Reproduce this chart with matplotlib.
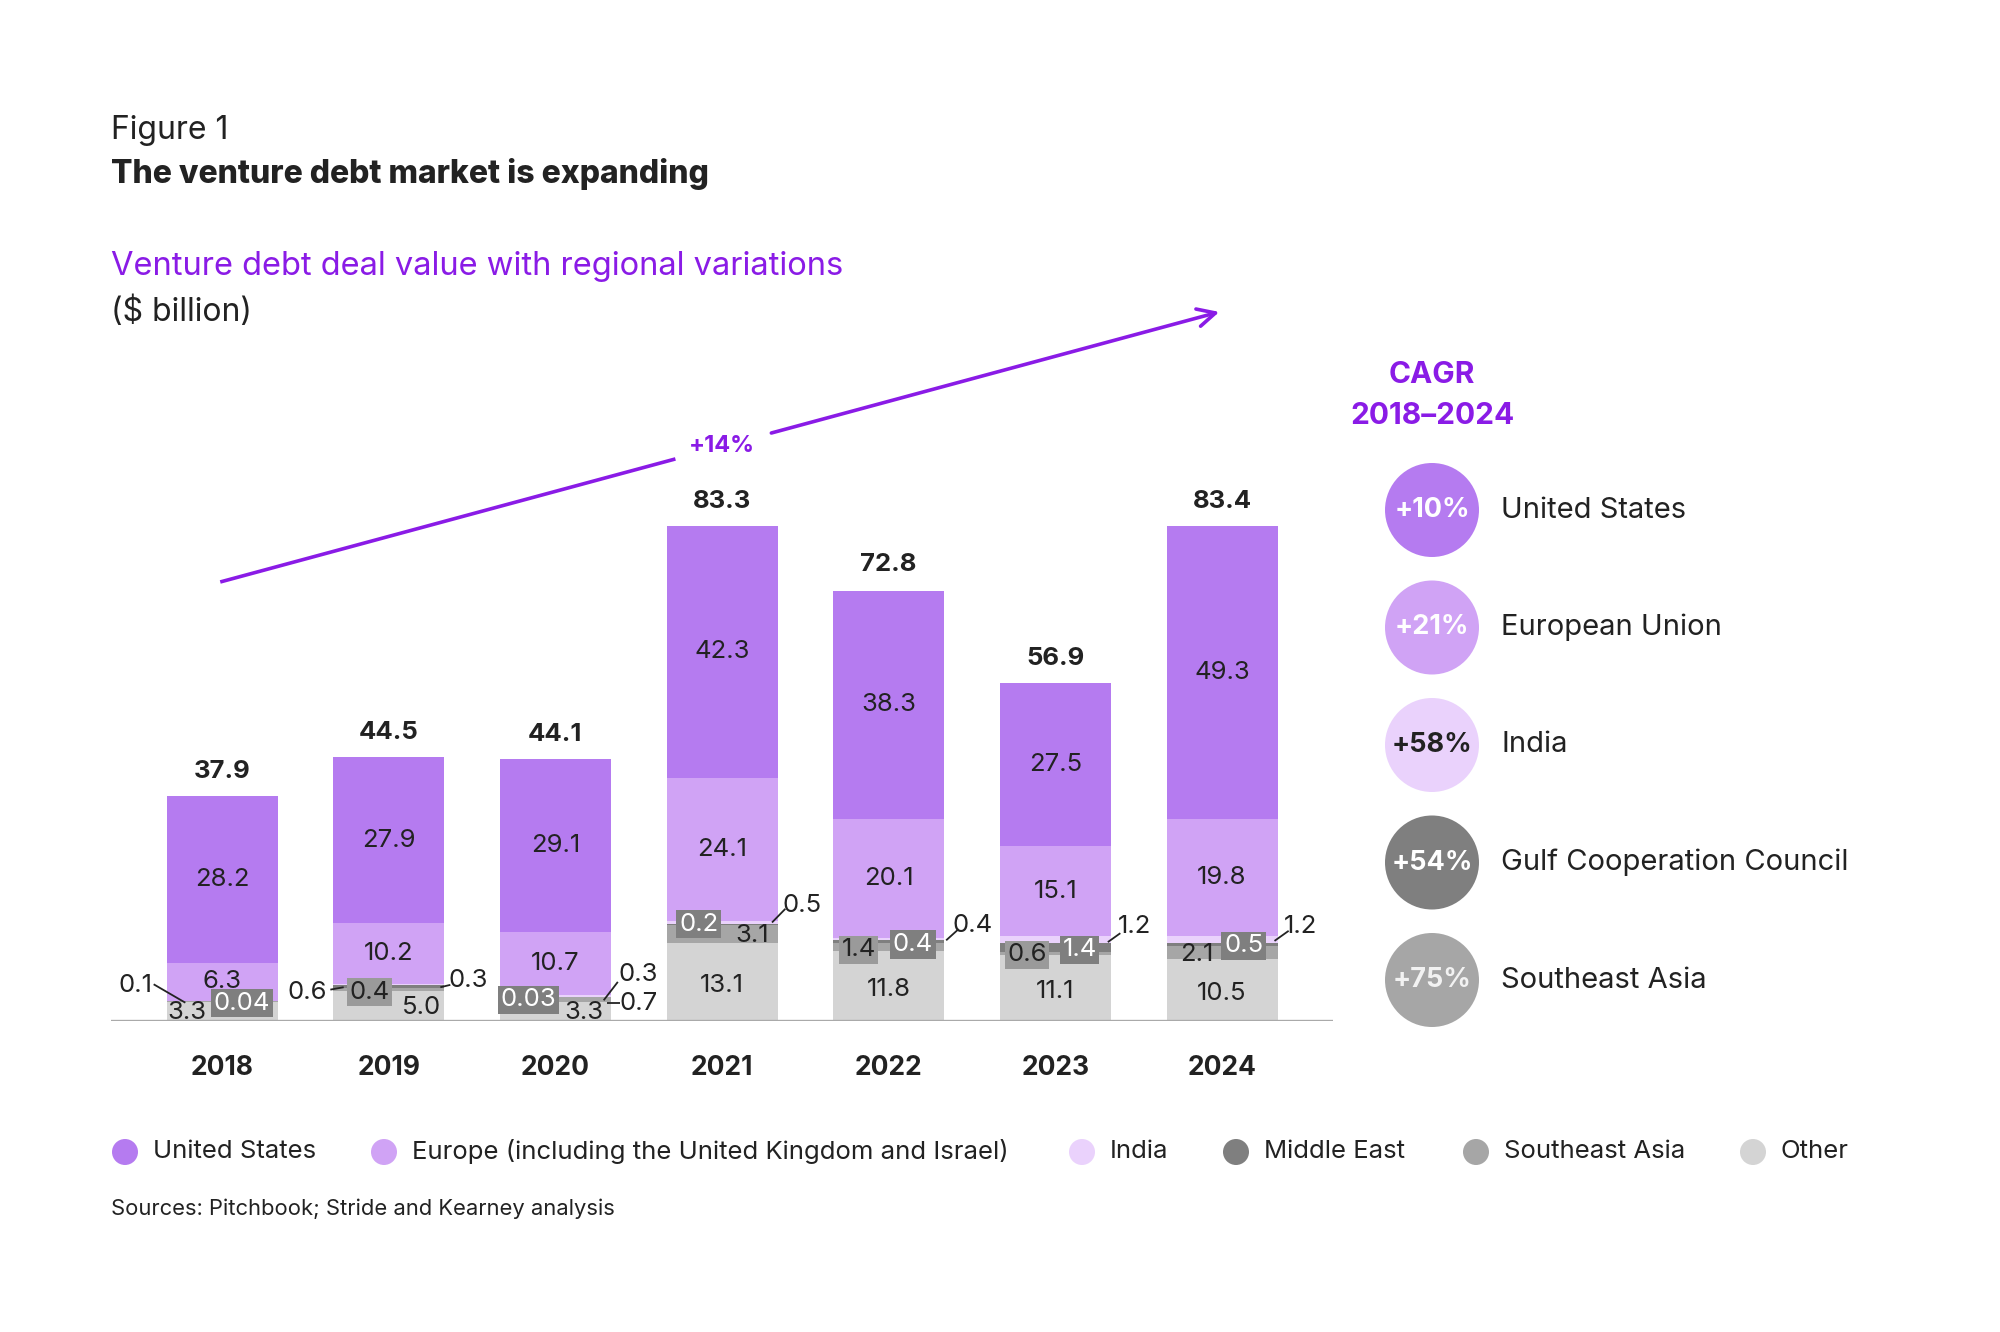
import matplotlib
matplotlib.use("Agg")
import matplotlib.pyplot as plt
from matplotlib.patches import Circle, FancyArrowPatch

plt.rcParams['font.family'] = ['Inter', 'DejaVu Sans']

# ------------- DATA ------------- #
years = ['2018', '2019', '2020', '2021', '2022', '2023', '2024']
other = [3.3, 5.0, 3.3, 13.1, 11.8, 11.1, 10.5]
southeast_asia = [0.1, 0.6, 0.7, 3.1, 1.4, 0.6, 2.1]
middle_east = [0.04, 0.4, 0.03, 0.2, 0.4, 1.4, 0.5]
india = [0.0, 0.3, 0.3, 0.5, 0.4, 1.2, 1.2]
europe = [6.3, 10.2, 10.7, 24.1, 20.1, 15.1, 19.8]
united_states = [28.2, 27.9, 29.1, 42.3, 38.3, 27.5, 49.3]
totals = [37.9, 44.5, 44.1, 83.3, 72.8, 56.9, 83.4]
overall_cagr = '+14%'

cagr_regions = ['United States', 'European Union', 'India', 'Gulf Cooperation Council', 'Southeast Asia']
cagr_values = ['+10%', '+21%', '+58%', '+54%', '+75%']
legend_names = ['United States', 'Europe (including the United Kingdom and Israel)', 'India',
                'Middle East', 'Southeast Asia', 'Other']

# ------------- STYLE ------------- #
purple = '#8a1be6'
dark = '#222222'
c_us, c_eu, c_in = '#b57bf0', '#d0a3f5', '#ead2fc'
c_me, c_sea, c_oth = '#7f7f7f', '#a6a6a6', '#d4d4d4'

series = {'other': other, 'sea': southeast_asia, 'me': middle_east, 'india': india}

# small labels: (bar, series, dx, y, style, leader)
small_labels = [
    (0, 'other', -0.21, 1.5, 'plain', None),
    (0, 'me', 0.12, 3.0, 'dark', None),
    (0, 'sea', -0.52, 6.0, 'plain', ((-0.41, 6.2), (-0.22, 3.1))),
    (1, 'other', 0.20, 2.3, 'plain', None),
    (1, 'me', -0.115, 4.9, 'mid', None),
    (1, 'sea', -0.49, 4.9, 'plain', ((-0.35, 5.3), (-0.27, 5.7))),
    (1, 'india', 0.48, 6.9, 'plain', ((0.31, 5.7), (0.37, 6.1))),
    (2, 'me', -0.16, 3.6, 'dark', None),
    (2, 'other', 0.17, 1.4, 'plain', None),
    (2, 'india', 0.50, 7.8, 'plain', ((0.29, 3.5), (0.375, 6.6))),
    (2, 'sea', 0.50, 3.0, 'plain', ((0.31, 3.0), (0.39, 3.0))),
    (3, 'me', -0.14, 16.3, 'dark', None),
    (3, 'sea', 0.18, 14.4, 'plain', None),
    (3, 'india', 0.48, 19.4, 'plain', ((0.30, 16.6), (0.38, 18.9))),
    (4, 'sea', -0.18, 12.0, 'mid', None),
    (4, 'me', 0.145, 12.9, 'dark', None),
    (4, 'india', 0.505, 16.1, 'plain', ((0.345, 13.6), (0.42, 15.5))),
    (5, 'sea', -0.17, 11.2, 'mid', None),
    (5, 'me', 0.145, 12.0, 'dark', None),
    (5, 'india', 0.475, 15.9, 'plain', ((0.315, 13.3), (0.39, 14.8))),
    (6, 'sea', -0.15, 11.2, 'plain', None),
    (6, 'me', 0.13, 12.7, 'dark', None),
    (6, 'india', 0.47, 15.9, 'plain', ((0.315, 13.5), (0.40, 15.2))),
]


def fmt(v):
    return f"{v:.2f}" if v < 0.1 else f"{v:.1f}"


fig = plt.figure(figsize=(20, 13.32), dpi=100)

# overlay axes in pixel space for headings, CAGR circles and legend
ov = fig.add_axes([0, 0, 1, 1])
ov.set_xlim(0, 2000)
ov.set_ylim(1332, 0)
ov.axis('off')

ax = fig.add_axes([0.0555, 0.2334, 0.611, 0.5575])
ax.set_zorder(2)
ax.patch.set_visible(False)
ax.set_xlim(-0.666, 6.666)
ax.set_ylim(0, 125)
ax.axis('off')

x = list(range(len(years)))
w = 0.666
bottom = [0.0] * len(years)
for vals, col in [(other, c_oth), (southeast_asia, c_sea), (middle_east, c_me),
                  (india, c_in), (europe, c_eu), (united_states, c_us)]:
    ax.bar(x, vals, w, bottom=bottom, color=col, linewidth=0, zorder=2)
    bottom = [b + v for b, v in zip(bottom, vals)]

ax.axhline(0, color='#aaaaaa', lw=2.4, zorder=3)

fs = 18.5
for i in x:
    b_eu = other[i] + southeast_asia[i] + middle_east[i] + india[i]
    ax.text(i, b_eu + europe[i] / 2, fmt(europe[i]), ha='center', va='center', fontsize=fs, color=dark, zorder=5)
    ax.text(i, b_eu + europe[i] + united_states[i] / 2, fmt(united_states[i]), ha='center', va='center',
            fontsize=fs, color=dark, zorder=5)
    if i >= 3:
        ax.text(i, other[i] / 2 - 0.6, fmt(other[i]), ha='center', va='center', fontsize=fs, color=dark, zorder=5)
    ax.text(i, totals[i] + 4.1, f"{totals[i]:.1f}", ha='center', va='center', fontsize=18.5,
            fontweight='bold', color=dark, zorder=5)
    ax.text(i, -7.9, years[i], ha='center', va='center', fontsize=19, fontweight='bold',
            color=dark, clip_on=False)

for i, key, dx, y, style, leader in small_labels:
    txt = fmt(series[key][i])
    kw = dict(ha='center', va='center', fontsize=fs, zorder=6)
    if style == 'dark':
        kw['color'] = 'white'
        kw['bbox'] = dict(boxstyle='square,pad=0.1', fc=c_me, ec='none')
    elif style == 'mid':
        kw['color'] = dark
        kw['bbox'] = dict(boxstyle='square,pad=0.1', fc='#9a9a9a', ec='none')
    else:
        kw['color'] = dark
    ax.text(i + dx, y, txt, **kw)
    if leader:
        (x0, y0), (x1, y1) = leader
        ax.plot([i + x0, i + x1], [y0, y1], color=dark, lw=1.3, zorder=6, solid_capstyle='butt')

# overall CAGR arrow
y_start, y_end = 74.0, 119.5
slope = (y_end - y_start) / 6
ax.plot([0, 2.71], [y_start, y_start + slope * 2.71], color=purple, lw=2.6, zorder=4)
ax.add_patch(FancyArrowPatch((3.28, y_start + slope * 3.28), (6, y_end), arrowstyle='->',
                             mutation_scale=32, color=purple, lw=2.6, zorder=4))
ax.text(3, y_start + slope * 3, overall_cagr, ha='center', va='center', fontsize=17,
        fontweight='bold', color=purple)

# headings
ov.text(111, 130, 'Figure 1', fontsize=23, color=dark, va='center', ha='left')
ov.text(111, 174, 'The venture debt market is expanding', fontsize=23, fontweight='heavy',
        color=dark, va='center', ha='left')
ov.text(111, 267, 'Venture debt deal value with regional variations', fontsize=23.5,
        color=purple, va='center', ha='left')
ov.text(111, 312, '($ billion)', fontsize=23, color=dark, va='center', ha='left')

# CAGR panel
ov.text(1432, 375, 'CAGR', fontsize=21.5, fontweight='bold', color=purple, ha='center', va='center')
ov.text(1432, 416, '2018–2024', fontsize=21.5, fontweight='bold', color=purple, ha='center', va='center')
circ_cols = [c_us, c_eu, c_in, c_me, c_sea]
circ_txt = ['white', 'white', dark, 'white', '#f2f2f2']
for k, (reg, val) in enumerate(zip(cagr_regions, cagr_values)):
    cy = 510 + k * 117.5
    ov.add_patch(Circle((1432, cy), 47, color=circ_cols[k], lw=0))
    ov.text(1432, cy, val, fontsize=19.5, fontweight='bold', color=circ_txt[k], ha='center', va='center')
    ov.text(1501, cy, reg, fontsize=21, color=dark, ha='left', va='center')

# legend
leg_cols = [c_us, c_eu, c_in, c_me, c_sea, c_oth]
leg_x = [125, 384, 1082, 1236, 1476, 1753]
for name, col, lx in zip(legend_names, leg_cols, leg_x):
    ov.add_patch(Circle((lx, 1152), 13, color=col, lw=0))
    ov.text(lx + 28, 1152, name, fontsize=18.5, color=dark, ha='left', va='center')

ov.text(111, 1209, 'Sources: Pitchbook; Stride and Kearney analysis', fontsize=15.8, color=dark,
        ha='left', va='center')

fig.savefig('out.png', dpi=100, facecolor='white')
